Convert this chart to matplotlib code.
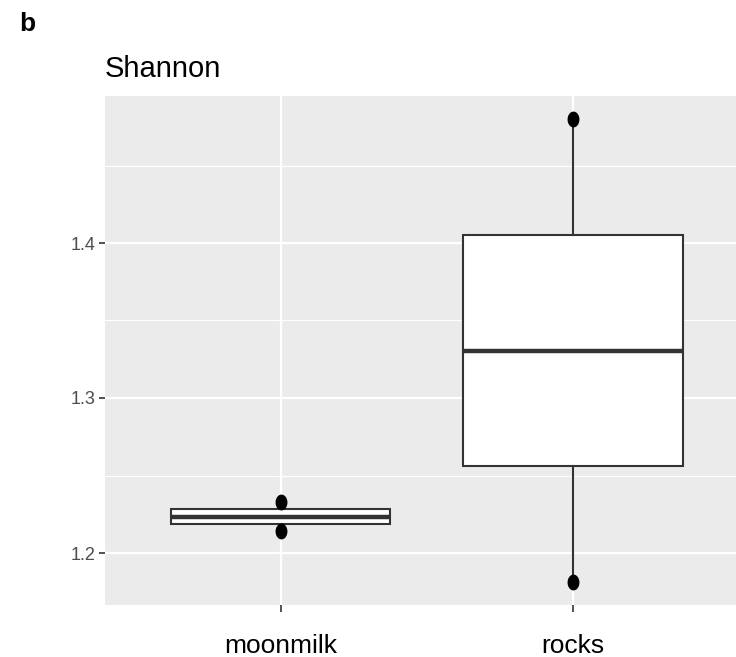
import matplotlib
matplotlib.use("Agg")
import matplotlib.pyplot as plt
import numpy as np
from matplotlib.path import Path

plt.rcParams['font.family'] = ['Liberation Sans', 'DejaVu Sans']

categories = ["moonmilk", "rocks"]
q1 = [1.2189, 1.2563]
median = [1.2234, 1.3305]
q3 = [1.2282, 1.4054]
whisk_lo = [1.2142, 1.1811]
whisk_hi = [1.2327, 1.4800]
points = [[1.2142, 1.2327], [1.1811, 1.4800]]
yticks = [1.2, 1.3, 1.4]
yminor = [1.25, 1.35, 1.45]

fig = plt.figure(figsize=(7.36, 6.57), dpi=100)
ax = fig.add_axes([105/736, 52/657, 1 - 105/736, (605-96)/657])
ax.set_facecolor('#EBEBEB')
for s in ax.spines.values():
    s.set_visible(False)

pos = np.arange(1, len(categories) + 1)
stats = []
for i, c in enumerate(categories):
    stats.append(dict(label=c, q1=q1[i], med=median[i], q3=q3[i],
                      whislo=whisk_lo[i], whishi=whisk_hi[i], fliers=[]))
ax.bxp(stats, positions=pos, widths=0.75, patch_artist=True, showcaps=False,
       boxprops=dict(facecolor='white', edgecolor='#333333', linewidth=1.5),
       whiskerprops=dict(color='#333333', linewidth=1.5),
       medianprops=dict(color='#333333', linewidth=3.2, solid_capstyle='butt'),
       zorder=3)

# elliptical marker
t = np.linspace(0, 2*np.pi, 40)
verts = np.column_stack([0.75*np.cos(t), np.sin(t)])
ell = Path(verts, closed=True)
for i, pts in enumerate(points):
    ax.scatter([pos[i]]*len(pts), pts, marker=ell, s=130, color='black', zorder=4, linewidths=0)

ax.set_xlim(0.4, 1 + (736-280)/293)
ax.set_ylim(1.2 - (605-553)/1550, 1.4 + (243-96)/1550)
ax.set_yticks(yticks)
ax.set_yticks(yminor, minor=True)
ax.set_yticklabels([f"{v:.1f}" for v in yticks])
ax.set_xticks(pos)
ax.set_xticklabels(categories)
ax.grid(True, which='major', color='white', linewidth=1.6, zorder=0)
ax.grid(True, which='minor', axis='y', color='white', linewidth=0.8, zorder=0)
ax.set_axisbelow(True)
ax.tick_params(axis='y', which='major', length=4, width=1.2, color='#333333',
               labelsize=13, labelcolor='#4D4D4D', pad=3)
ax.tick_params(axis='x', which='major', length=5, width=1.2, color='#333333',
               labelsize=19, labelcolor='black', pad=16)
ax.tick_params(which='minor', length=0)

fig.text(105/736, 1 - 77/657, "Shannon", fontsize=21, color='black', va='baseline', ha='left')
fig.text(19/736, 1 - 31/657, "b", fontsize=19, fontweight='bold', va='baseline', ha='left')

fig.savefig("out.png", dpi=100)
